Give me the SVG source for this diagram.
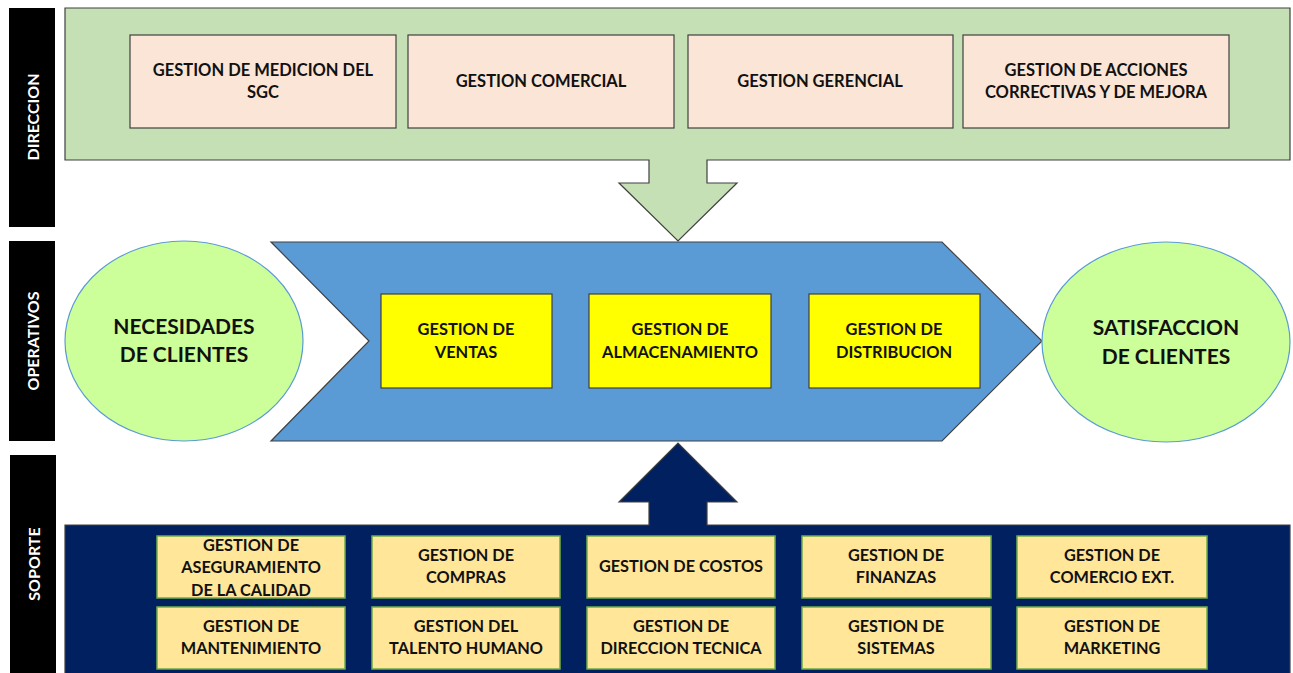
<svg xmlns="http://www.w3.org/2000/svg" width="1293" height="673" viewBox="0 0 1293 673">
  <style>
    .lbl { font-family: Lato, "Open Sans", "Liberation Sans", sans-serif; font-weight: bold; fill: #111111; text-anchor: middle; }
    .top { font-size: 16.5px; }
    .mid { font-size: 16.4px; }
    .big { font-size: 21px; }
    .sup { font-size: 16.3px; }
    .side { font-family: Lato, "Open Sans", "Liberation Sans", sans-serif; font-weight: bold; font-size: 16px; fill: #ffffff; text-anchor: middle; }
    .bar { fill: #000000; }
    .pink { fill: #FBE5D6; stroke: #404040; stroke-width: 1.2; }
    .yel { fill: #FFFF00; stroke: #404040; stroke-width: 1.2; }
    .sand { fill: #FFE699; stroke: #70AD47; stroke-width: 1.5; }
    .oval { fill: #CCFF99; stroke: #5B9BD5; stroke-width: 1.2; }
  </style>
  <rect width="1293" height="673" fill="#ffffff"/>

  <!-- side bars -->
  <g id="bar-direccion">
    <rect class="bar" x="9" y="8" width="46" height="219"/>
    <text class="side" transform="translate(39 117) rotate(-90)">DIRECCION</text>
  </g>
  <g id="bar-operativos">
    <rect class="bar" x="9" y="241" width="46" height="200"/>
    <text class="side" transform="translate(39 341) rotate(-90)">OPERATIVOS</text>
  </g>
  <g id="bar-soporte">
    <rect class="bar" x="10" y="455" width="46" height="220"/>
    <text class="side" transform="translate(40 564) rotate(-90)">SOPORTE</text>
  </g>

  <!-- direction panel with downward arrow -->
  <g id="panel-direccion">
    <path d="M65 8 H1290 V160 H707 V183 H737 L678 241 L619 183 H649 V160 H65 Z" fill="#C5E0B4" stroke="#404040" stroke-width="1.2"/>
  </g>
  <g id="n-medicion">
    <rect class="pink" x="130" y="35" width="266" height="93"/>
    <text class="lbl top" x="263" y="76">GESTION DE MEDICION DEL</text>
    <text class="lbl top" x="263" y="98">SGC</text>
  </g>
  <g id="n-comercial">
    <rect class="pink" x="408" y="35" width="266" height="93"/>
    <text class="lbl top" x="541" y="87">GESTION COMERCIAL</text>
  </g>
  <g id="n-gerencial">
    <rect class="pink" x="688" y="35" width="265" height="93"/>
    <text class="lbl top" x="820" y="87">GESTION GERENCIAL</text>
  </g>
  <g id="n-acciones">
    <rect class="pink" x="963" y="35" width="266" height="93"/>
    <text class="lbl top" x="1096" y="76">GESTION DE ACCIONES</text>
    <text class="lbl top" x="1096" y="98">CORRECTIVAS Y DE MEJORA</text>
  </g>

  <!-- operational chevron -->
  <g id="chevron-operativos">
    <path d="M271 242 H942 L1042 341 L942 441 H271 L369 341 Z" fill="#5B9BD5" stroke="#404040" stroke-width="1.2"/>
  </g>
  <g id="n-necesidades">
    <ellipse class="oval" cx="184" cy="341" rx="119" ry="100"/>
    <text class="lbl big" x="184" y="334">NECESIDADES</text>
    <text class="lbl big" x="184" y="362">DE CLIENTES</text>
  </g>
  <g id="n-satisfaccion">
    <ellipse class="oval" cx="1166" cy="342" rx="124" ry="100"/>
    <text class="lbl big" x="1166" y="335">SATISFACCION</text>
    <text class="lbl big" x="1166" y="364">DE CLIENTES</text>
  </g>
  <g id="n-ventas">
    <rect class="yel" x="381" y="294" width="171" height="94"/>
    <text class="lbl mid" x="466" y="335">GESTION DE</text>
    <text class="lbl mid" x="466" y="358">VENTAS</text>
  </g>
  <g id="n-almacenamiento">
    <rect class="yel" x="589" y="294" width="182" height="94"/>
    <text class="lbl mid" x="680" y="335">GESTION DE</text>
    <text class="lbl mid" x="680" y="358">ALMACENAMIENTO</text>
  </g>
  <g id="n-distribucion">
    <rect class="yel" x="809" y="294" width="171" height="94"/>
    <text class="lbl mid" x="894" y="335">GESTION DE</text>
    <text class="lbl mid" x="894" y="358">DISTRIBUCION</text>
  </g>

  <!-- support panel with upward arrow -->
  <g id="panel-soporte">
    <path d="M65 525 H649 V502 H619 L678 443 L737 502 H707 V525 H1290 V680 H65 Z" fill="#002060" stroke="#404040" stroke-width="1.2"/>
  </g>
  <g id="n-aseguramiento">
    <rect class="sand" x="157" y="536" width="188" height="62"/>
    <text class="lbl sup" x="251" y="551">GESTION DE</text>
    <text class="lbl sup" x="251" y="573">ASEGURAMIENTO</text>
    <text class="lbl sup" x="251" y="596">DE LA CALIDAD</text>
  </g>
  <g id="n-compras">
    <rect class="sand" x="372" y="536" width="188" height="62"/>
    <text class="lbl sup" x="466" y="561">GESTION DE</text>
    <text class="lbl sup" x="466" y="583">COMPRAS</text>
  </g>
  <g id="n-costos">
    <rect class="sand" x="587" y="536" width="188" height="62"/>
    <text class="lbl sup" x="681" y="572">GESTION DE COSTOS</text>
  </g>
  <g id="n-finanzas">
    <rect class="sand" x="802" y="536" width="189" height="62"/>
    <text class="lbl sup" x="896" y="561">GESTION DE</text>
    <text class="lbl sup" x="896" y="583">FINANZAS</text>
  </g>
  <g id="n-comercio">
    <rect class="sand" x="1017" y="536" width="190" height="62"/>
    <text class="lbl sup" x="1112" y="561">GESTION DE</text>
    <text class="lbl sup" x="1112" y="583">COMERCIO EXT.</text>
  </g>
  <g id="n-mantenimiento">
    <rect class="sand" x="157" y="607" width="188" height="62"/>
    <text class="lbl sup" x="251" y="632">GESTION DE</text>
    <text class="lbl sup" x="251" y="654">MANTENIMIENTO</text>
  </g>
  <g id="n-talento">
    <rect class="sand" x="372" y="607" width="188" height="62"/>
    <text class="lbl sup" x="466" y="632">GESTION DEL</text>
    <text class="lbl sup" x="466" y="654">TALENTO HUMANO</text>
  </g>
  <g id="n-direccion-tecnica">
    <rect class="sand" x="587" y="607" width="188" height="62"/>
    <text class="lbl sup" x="681" y="632">GESTION DE</text>
    <text class="lbl sup" x="681" y="654">DIRECCION TECNICA</text>
  </g>
  <g id="n-sistemas">
    <rect class="sand" x="802" y="607" width="189" height="62"/>
    <text class="lbl sup" x="896" y="632">GESTION DE</text>
    <text class="lbl sup" x="896" y="654">SISTEMAS</text>
  </g>
  <g id="n-marketing">
    <rect class="sand" x="1017" y="607" width="190" height="62"/>
    <text class="lbl sup" x="1112" y="632">GESTION DE</text>
    <text class="lbl sup" x="1112" y="654">MARKETING</text>
  </g>

  <!-- connectors: the block arrows are drawn as part of the panels above -->
  <g id="connectors"></g>
</svg>
